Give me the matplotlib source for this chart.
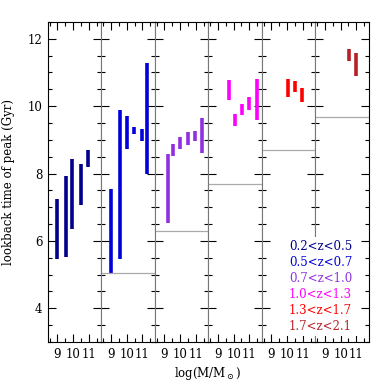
import matplotlib
matplotlib.use("Agg")
import matplotlib.pyplot as plt
from matplotlib.patches import Rectangle
from matplotlib.ticker import MultipleLocator

plt.rcParams["font.family"] = ["DejaVu Serif"]
plt.rcParams["mathtext.fontset"] = "dejavuserif"

Z_LABELS = ["0.2<z<0.5", "0.5<z<0.7", "0.7<z<1.0", "1.0<z<1.3", "1.3<z<1.7", "1.7<z<2.1"]
COLORS = ["#00008c", "#0000dc", "#9030e0", "#ff00ff", "#ff0000", "#b82028"]

# log stellar mass of each bin, and lower/upper lookback time of peak (Gyr)
MASS = [
    [9.0, 9.55, 9.95, 10.5, 10.95],
    [9.0, 9.55, 10.05, 10.47, 11.0, 11.3],
    [9.2, 9.55, 10.0, 10.5, 10.95, 11.4],
    [9.7, 10.1, 10.55, 11.0, 11.5],
    [10.05, 10.5, 10.95],
    [10.55, 10.95],
]
T_LOW = [
    [5.47, 5.51, 6.34, 7.08, 8.20],
    [5.04, 5.45, 8.72, 9.16, 8.97, 7.98],
    [6.52, 8.52, 8.73, 8.86, 8.97, 8.60],
    [10.19, 9.41, 9.73, 9.88, 9.59],
    [10.26, 10.41, 10.12],
    [11.33, 10.89],
]
T_HIGH = [
    [7.23, 7.92, 8.42, 8.28, 8.69],
    [7.54, 9.87, 9.70, 9.39, 9.32, 11.29],
    [8.59, 8.87, 9.08, 9.23, 9.27, 9.66],
    [10.76, 9.76, 10.05, 10.26, 10.80],
    [10.79, 10.73, 10.55],
    [11.69, 11.57],
]
# lookback time at the low-z edge of each redshift bin
T_ZMIN = [2.43, 5.04, 6.28, 7.70, 8.71, 9.69]

W = 390.0


def main():
    fig, axes = plt.subplots(1, 6, figsize=(3.9, 3.9), dpi=100, sharey=True)
    fig.subplots_adjust(left=0.123, right=0.946, bottom=0.123, top=0.944, wspace=0)

    for i, ax in enumerate(axes):
        ax.vlines(MASS[i], T_LOW[i], T_HIGH[i], color=COLORS[i], linewidth=2.6,
                  capstyle="butt")
        ax.axhline(T_ZMIN[i], color="#aaaaaa", linewidth=0.9)

        ax.set_xlim(8.4, 11.8)
        ax.set_ylim(3, 12.5)
        ax.xaxis.set_major_locator(MultipleLocator(1))
        ax.xaxis.set_minor_locator(MultipleLocator(0.5))
        ax.yaxis.set_major_locator(MultipleLocator(2))
        ax.yaxis.set_minor_locator(MultipleLocator(0.5))
        ax.tick_params(which="both", direction="in", top=True, right=True,
                       labelsize=8.5, width=0.8, pad=4)
        ax.tick_params(which="major", length=5.8)
        ax.tick_params(which="minor", length=3.2)
        ax.set_xticks([9, 10, 11])
        ax.set_xticklabels(["9", "10", "11"])

        for side in ["left", "right"]:
            ax.spines[side].set_color("#777777")
        if i == 0:
            ax.spines["left"].set_color("black")
        if i == 5:
            ax.spines["right"].set_color("black")
        if i > 0:
            ax.tick_params(labelleft=False)

    fig.text(9 / W, (0.123 + 0.944) / 2, "lookback time of peak (Gyr)",
             rotation=90, ha="center", va="center", fontsize=8.5)
    fig.text(208 / W, 1 - 373 / W, r"log(M/M$_\odot$)", ha="center", va="center",
             fontsize=8.5)

    # white panel behind the redshift key, hiding the panel divider
    fig.add_artist(Rectangle((284 / W, 1 - 336 / W), 74 / W, 99 / W,
                             transform=fig.transFigure, facecolor="white",
                             edgecolor="none", zorder=4))

    ys = [246.7, 262.3, 278.3, 294.3, 310.3, 326.5]
    for label, color, y in zip(Z_LABELS, COLORS, ys):
        fig.text(289 / W, 1 - y / W, label, color=color, ha="left", va="center",
                 fontsize=8.5, zorder=5)

    fig.savefig("out.png", dpi=100)
    plt.close(fig)


if __name__ == "__main__":
    main()
